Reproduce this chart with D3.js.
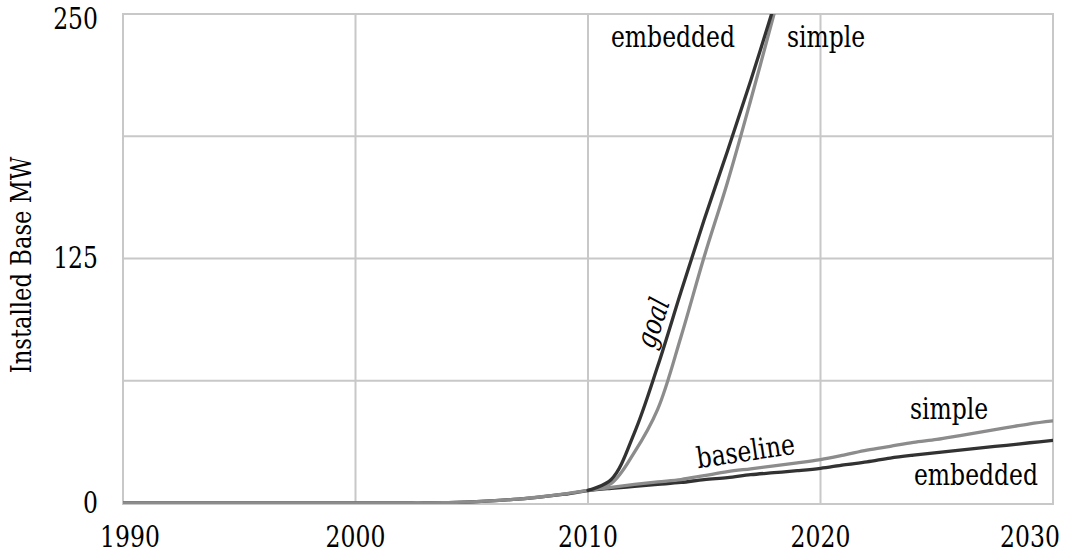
<!DOCTYPE html>
<html>
<head>
<meta charset="utf-8">
<script src="https://cdn.jsdelivr.net/npm/d3@7"></script>
<style>
  html, body { margin: 0; padding: 0; background: #fff; }
  text { font-family: "DejaVu Serif", serif; fill: #000; }
</style>
</head>
<body>
<svg id="chart" width="1066" height="554"></svg>
<script>
// ---- data ----
const years = d3.range(1990, 2031);
const baselineSimple = [
  0,0,0,0,0,0,0,0,0,0,          // 1990-1999
  0,0,0,0,0.2,0.6,1.2,2,3.2,4.7, // 2000-2009
  6.5,8,9.5,10.8,12,14,16,17.5,19,20.5, // 2010-2019
  22.2,24.5,27,29,31,32.5,34.5,36.5,38.5,40.5, // 2020-2029
  42                              // 2030
];
const baselineEmbedded = [
  0,0,0,0,0,0,0,0,0,0,
  0,0,0,0,0.2,0.6,1.2,2,3.1,4.5,
  6.3,7.5,8.5,9.5,10.5,12,13,14.5,15.5,16.5,
  17.7,19.5,21,23,24.5,25.8,27,28.3,29.5,30.8,
  32
];
const goalYears = d3.range(2010, 2019);
const goalSimple   = [6.5, 10, 26, 48, 85, 126, 164, 206, 250];
const goalEmbedded = [6.5, 12, 36, 70, 108, 145, 180, 216, 254];
const yTicks = [0, 125, 250];
const yGrid = [62.5, 125, 187.5];
const xTicks = [1990, 2000, 2010, 2020, 2030];
const yTitle = "Installed Base MW";

// ---- layout ----
const svg = d3.select("#chart");
const L = 123, R = 1053, T = 14, B = 504;
const x = d3.scaleLinear().domain([1990, 2030]).range([L, R]);
const y = d3.scaleLinear().domain([0, 250]).range([B - 1, T]);
const SX = 0.81; // narrow the serif to Times-like proportions

const gridColor = "#c8c8c8";
const dark = "#323232", gray = "#8c8c8c";

svg.append("g").selectAll("line.h").data(yGrid).join("line")
  .attr("x1", L).attr("x2", R).attr("y1", d => y(d)).attr("y2", d => y(d))
  .attr("stroke", gridColor).attr("stroke-width", 2);
svg.append("g").selectAll("line.v").data(xTicks.slice(1, -1)).join("line")
  .attr("x1", d => x(d)).attr("x2", d => x(d)).attr("y1", T).attr("y2", B)
  .attr("stroke", gridColor).attr("stroke-width", 2);
svg.append("rect").attr("x", L).attr("y", T).attr("width", R - L).attr("height", B - T)
  .attr("fill", "none").attr("stroke", gridColor).attr("stroke-width", 2);

svg.append("clipPath").attr("id", "clip").append("rect")
  .attr("x", L).attr("y", T).attr("width", R - L).attr("height", B - T);

const line = d3.line().x(d => x(d[0])).y(d => y(d[1])).curve(d3.curveCatmullRom.alpha(0.5));
const g = svg.append("g").attr("clip-path", "url(#clip)");
function draw(xs, vs, color) {
  g.append("path").datum(xs.map((yr, i) => [yr, vs[i]]))
    .attr("d", line).attr("fill", "none").attr("stroke", color)
    .attr("stroke-width", 3.3).attr("stroke-linejoin", "round").attr("stroke-linecap", "round");
}
draw(years, baselineEmbedded, dark);
draw(years, baselineSimple, gray);
draw(goalYears, goalSimple, gray);
draw(goalYears, goalEmbedded, dark);

svg.append("g").selectAll("text").data(yTicks).join("text")
  .attr("transform", d => `translate(98,${Math.max(y(d), 19)}) scale(${SX},1)`)
  .attr("text-anchor", "end").attr("dominant-baseline", "central")
  .attr("font-size", 29).text(d => d);

svg.append("g").selectAll("text").data(xTicks).join("text")
  .attr("transform", d => `translate(${Math.min(Math.max(x(d), L + 7), R - 23)},547) scale(${SX},1)`)
  .attr("text-anchor", "middle")
  .attr("font-size", 29).text(d => d);

svg.append("text").attr("transform", `translate(31,265) rotate(-90) scale(${SX},1)`)
  .attr("text-anchor", "middle").attr("font-size", 28).text(yTitle);

function label(txt, px, py, rot, italic) {
  svg.append("text").attr("transform", `translate(${px},${py}) rotate(${rot}) scale(${SX},1)`)
    .attr("text-anchor", "middle").attr("font-size", 29)
    .attr("font-style", italic ? "italic" : "normal").text(txt);
}
label("embedded", 673, 47, 0);
label("simple", 826, 47, 0);
label("goal", 662, 326, -71, true);
label("baseline", 747, 461, -8.5);
label("simple", 949, 419, 0);
label("embedded", 976, 485, 0);
</script>
</body>
</html>
